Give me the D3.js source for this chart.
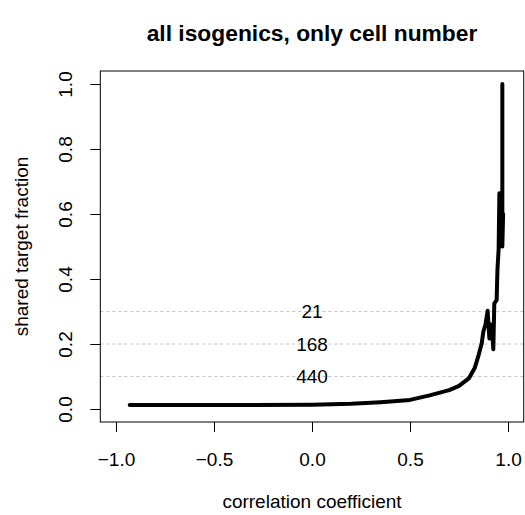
<!DOCTYPE html>
<html>
<head>
<meta charset="utf-8">
<script src="https://cdn.jsdelivr.net/npm/d3@7"></script>
<style>
  body { margin: 0; background: #fff; }
  svg text { font-family: "Liberation Sans", Arial, Helvetica, sans-serif; fill: #000; }
</style>
</head>
<body>
<div id="chart"></div>
<script>
///////////////////// Data ////////////////////////
// correlation coefficient vs shared target fraction
var corr = [-0.93, -0.5, 0.0, 0.2, 0.35, 0.5, 0.6, 0.7, 0.75, 0.8, 0.83, 0.85,
            0.866, 0.874, 0.885, 0.896, 0.905, 0.912, 0.917, 0.925, 0.93, 0.942,
            0.946, 0.952, 0.956, 0.96, 0.965, 0.97, 0.975, 0.971, 0.971];
var frac = [0.012, 0.012, 0.013, 0.016, 0.021, 0.028, 0.042, 0.058, 0.071, 0.094, 0.126, 0.166,
            0.202, 0.238, 0.26, 0.302, 0.217, 0.26, 0.258, 0.184, 0.325, 0.335,
            0.428, 0.49, 0.664, 0.52, 0.664, 0.5, 0.6, 0.5, 1.0];

// dotted reference lines with their counts
var refLevels = [0.3, 0.2, 0.1];
var refLabels = ["21", "168", "440"];

var xTicks = [-1.0, -0.5, 0.0, 0.5, 1.0];
var yTicks = [0.0, 0.2, 0.4, 0.6, 0.8, 1.0];
//////////////////////////////////////////////////

var width = 525;
var height = 515;
var baseFont = 19;

// plot region (R style: limits padded by 4%)
var plotLeft = 100.3, plotRight = 523.7, plotTop = 71, plotBottom = 422;

var x = d3.scaleLinear().domain([-1.08, 1.08]).range([plotLeft, plotRight]);
var y = d3.scaleLinear().domain([-0.04, 1.04]).range([plotBottom, plotTop]);

var svg = d3.select("#chart")
    .append("svg")
    .attr("width", width)
    .attr("height", height);

// reference lines
svg.selectAll("line.ref")
    .data(refLevels)
    .enter().append("line")
    .attr("class", "ref")
    .attr("x1", plotLeft)
    .attr("x2", plotRight)
    .attr("y1", function (d) { return y(d); })
    .attr("y2", function (d) { return y(d); })
    .style("stroke", "#c4c4c4")
    .style("stroke-width", 1)
    .style("stroke-dasharray", "3,3");

// labels on the reference lines, centred at x = 0
svg.selectAll("text.ref")
    .data(refLevels)
    .enter().append("text")
    .attr("class", "ref")
    .attr("x", x(0))
    .attr("y", function (d) { return y(d); })
    .attr("dy", "0.36em")
    .attr("text-anchor", "middle")
    .style("font-size", baseFont + "px")
    .text(function (d, i) { return refLabels[i]; });

// the curve
var points = corr.map(function (c, i) { return [c, frac[i]]; });
var line = d3.line()
    .x(function (d) { return x(d[0]); })
    .y(function (d) { return y(d[1]); });

svg.append("path")
    .datum(points)
    .attr("d", line)
    .style("fill", "none")
    .style("stroke", "#000")
    .style("stroke-width", 4)
    .style("stroke-linejoin", "round")
    .style("stroke-linecap", "round");

// box
svg.append("rect")
    .attr("x", plotLeft)
    .attr("y", plotTop)
    .attr("width", plotRight - plotLeft)
    .attr("height", plotBottom - plotTop)
    .style("fill", "none")
    .style("stroke", "#000")
    .style("stroke-width", 1);

// x axis
var gx = svg.append("g")
    .attr("transform", "translate(0," + plotBottom + ")")
    .call(d3.axisBottom(x).tickValues(xTicks).tickSize(10).tickFormat(d3.format(".1f")));
gx.select(".domain").remove();
gx.selectAll("line").style("stroke", "#000");
gx.selectAll("text")
    .attr("y", 44)
    .attr("dy", 0)
    .style("font-size", baseFont + "px");

// y axis, labels parallel to the axis
var gy = svg.append("g")
    .attr("transform", "translate(" + plotLeft + ",0)")
    .call(d3.axisLeft(y).tickValues(yTicks).tickSize(10).tickFormat(d3.format(".1f")));
gy.select(".domain").remove();
gy.selectAll("line").style("stroke", "#000");
gy.selectAll("text")
    .attr("transform", "rotate(-90)")
    .attr("x", 0)
    .attr("y", -28)
    .attr("dy", 0)
    .attr("text-anchor", "middle")
    .style("font-size", baseFont + "px");

// titles
svg.append("text")
    .attr("x", x(0))
    .attr("y", 41)
    .attr("text-anchor", "middle")
    .style("font-size", "22.8px")
    .style("font-weight", "bold")
    .text("all isogenics, only cell number");

svg.append("text")
    .attr("x", x(0))
    .attr("y", 508)
    .attr("text-anchor", "middle")
    .style("font-size", baseFont + "px")
    .text("correlation coefficient");

svg.append("text")
    .attr("transform", "translate(28," + ((plotTop + plotBottom) / 2) + ") rotate(-90)")
    .attr("text-anchor", "middle")
    .style("font-size", baseFont + "px")
    .text("shared target fraction");
</script>
</body>
</html>
